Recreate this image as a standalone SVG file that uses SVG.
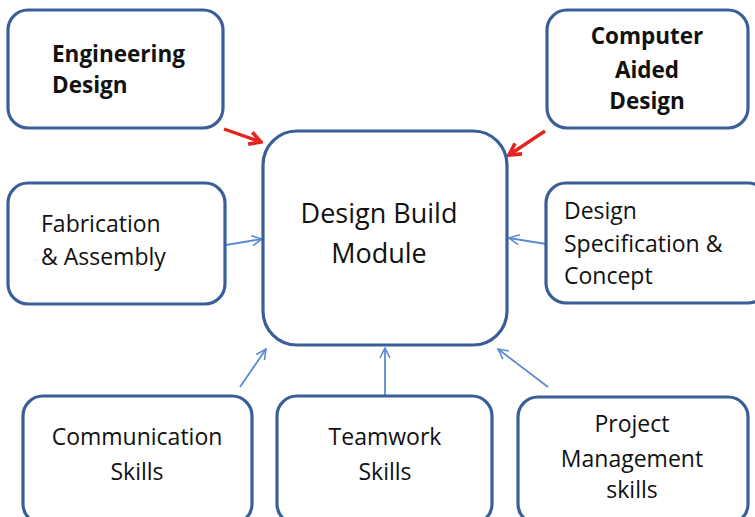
<svg xmlns="http://www.w3.org/2000/svg" width="755" height="517" viewBox="0 0 755 517">
  <defs>
    <marker id="openBlue" viewBox="0 0 12 12" refX="11" refY="6" markerWidth="12" markerHeight="12" markerUnits="userSpaceOnUse" orient="auto">
      <path d="M1,1 L11,6 L1,11" fill="none" stroke="#5b8bd0" stroke-width="1.6"/>
    </marker>
    <marker id="openRed" viewBox="0 0 14 14" refX="12" refY="7" markerWidth="16" markerHeight="16" markerUnits="userSpaceOnUse" orient="auto">
      <path d="M2,1.5 L12,7 L2,12.5" fill="none" stroke="#e2261f" stroke-width="3.2" stroke-linejoin="miter"/>
    </marker>
  </defs>
  <style>
    .box { fill: #ffffff; stroke: #3a5f98; stroke-width: 3.2; }
    .t { font-family: "Open Sans", "Noto Sans", "DejaVu Sans", sans-serif; font-size: 23px; fill: #111111; }
    .b { font-weight: bold; font-size: 22.5px; }
    .c { text-anchor: middle; }
    .big { font-size: 27px; }
    .blue { stroke: #5b8bd0; stroke-width: 1.8; fill: none; marker-end: url(#openBlue); }
    .red { stroke: #e2261f; stroke-width: 3.4; fill: none; marker-end: url(#openRed); }
  </style>
  <rect width="755" height="517" fill="#ffffff"/>

  <g id="connectors">
    <line class="red" x1="224" y1="129" x2="261" y2="142"/>
    <line class="red" x1="545" y1="131" x2="509" y2="155"/>
    <line class="blue" x1="226" y1="245" x2="262" y2="239"/>
    <line class="blue" x1="546" y1="244" x2="509" y2="238"/>
    <line class="blue" x1="240" y1="387" x2="266" y2="349"/>
    <line class="blue" x1="385" y1="397" x2="385" y2="348"/>
    <line class="blue" x1="548" y1="387" x2="498" y2="349"/>
  </g>

  <g id="design-build-module">
    <rect class="box" x="263" y="131" width="244" height="214" rx="34"/>
    <text class="t c big" x="379" y="223">Design Build</text>
    <text class="t c big" x="379" y="263">Module</text>
  </g>

  <g id="engineering-design">
    <rect class="box" x="8" y="10" width="215" height="118" rx="20"/>
    <text class="t b" x="52" y="62">Engineering</text>
    <text class="t b" x="52" y="93">Design</text>
  </g>

  <g id="computer-aided-design">
    <rect class="box" x="547" y="10" width="201" height="118" rx="20"/>
    <text class="t b c" x="647" y="44">Computer</text>
    <text class="t b c" x="647" y="78">Aided</text>
    <text class="t b c" x="647" y="109">Design</text>
  </g>

  <g id="fabrication-assembly">
    <rect class="box" x="8" y="183" width="217" height="121" rx="20"/>
    <text class="t" x="41" y="232">Fabrication</text>
    <text class="t" x="41" y="265">&amp; Assembly</text>
  </g>

  <g id="design-specification">
    <rect class="box" x="546" y="183" width="222" height="120" rx="20"/>
    <text class="t" x="564" y="219">Design</text>
    <text class="t" x="564" y="252">Specification &amp;</text>
    <text class="t" x="564" y="284">Concept</text>
  </g>

  <g id="communication-skills">
    <rect class="box" x="23" y="396" width="229" height="128" rx="20"/>
    <text class="t c" x="137" y="445">Communication</text>
    <text class="t c" x="137" y="480">Skills</text>
  </g>

  <g id="teamwork-skills">
    <rect class="box" x="277" y="396" width="215" height="128" rx="20"/>
    <text class="t c" x="385" y="445">Teamwork</text>
    <text class="t c" x="385" y="480">Skills</text>
  </g>

  <g id="project-management-skills">
    <rect class="box" x="518" y="397" width="230" height="127" rx="20"/>
    <text class="t c" x="632" y="432">Project</text>
    <text class="t c" x="632" y="467">Management</text>
    <text class="t c" x="632" y="498">skills</text>
  </g>
</svg>
